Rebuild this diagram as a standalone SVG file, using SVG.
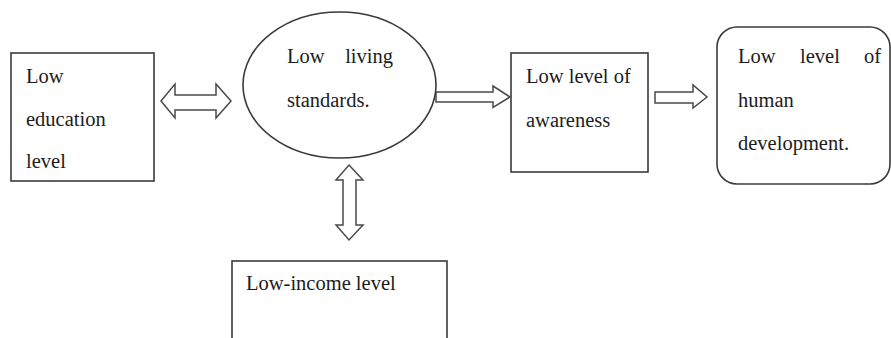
<svg xmlns="http://www.w3.org/2000/svg" width="891" height="338" viewBox="0 0 891 338">
<style>
.shape{fill:#fff;stroke:#3a3a3a;stroke-width:1.6}
.arrow{fill:#fff;stroke:#4a4a4a;stroke-width:1.5;stroke-linejoin:miter}
.t{font-family:"Liberation Serif","Times New Roman",serif;font-size:20.5px;fill:#1c1c1c}
</style>
<rect width="891" height="338" fill="#fff"/>
<g id="connectors">
<polygon class="arrow" points="161,101 175,84 175,95 216,95 216,84 231,101 216,118 216,110 175,110 175,118"/>
<polygon class="arrow" points="349,165 363,180 356,180 356,225 363,225 349,240 336,225 343,225 343,180 336,180"/>
<polygon class="arrow" points="436,92 493,92 493,86 510,97 493,107.5 493,102 436,102"/>
<polygon class="arrow" points="655,92 693,92 693,85 707,97 693,108 693,103 655,103"/>
</g>
<g id="node-education">
<rect class="shape" x="11" y="53" width="143" height="128"/>
<text class="t" x="26" y="83">Low</text>
<text class="t" x="26" y="126">education</text>
<text class="t" x="26" y="168">level</text>
</g>
<g id="node-living">
<ellipse class="shape" cx="339.5" cy="85" rx="96.5" ry="73"/>
<text class="t" x="287" y="63">Low</text>
<text class="t" x="393" y="63" text-anchor="end">living</text>
<text class="t" x="287" y="107">standards.</text>
</g>
<g id="node-awareness">
<rect class="shape" x="511" y="53" width="137" height="119"/>
<text class="t" x="526" y="83">Low level of</text>
<text class="t" x="526" y="127">awareness</text>
</g>
<g id="node-human">
<rect class="shape" x="717" y="27" width="173" height="157" rx="20" ry="20"/>
<text class="t" x="738" y="63">Low</text>
<text class="t" x="800" y="63">level</text>
<text class="t" x="881" y="63" text-anchor="end">of</text>
<text class="t" x="738" y="107">human</text>
<text class="t" x="738" y="150">development.</text>
</g>
<g id="node-income">
<rect class="shape" x="232" y="261" width="215" height="100"/>
<text class="t" x="246" y="290">Low-income level</text>
</g>
</svg>
